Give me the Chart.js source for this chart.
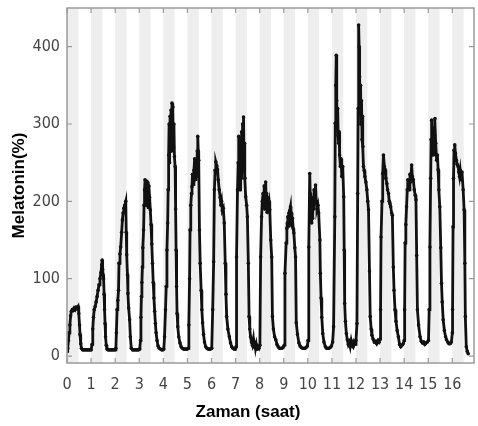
<!DOCTYPE html>
<html><head><meta charset="utf-8">
<script src="https://cdn.jsdelivr.net/npm/chart.js@4"></script>
<style>html,body{margin:0;padding:0;background:#fff}#wrap{width:478px;height:426px;position:relative}</style>
</head><body><div id="wrap"><canvas id="c" width="478" height="426"></canvas></div>
<script>
// time (hours) of each sample
const hours = [
0.00,0.03,0.06,0.09,0.12,0.15,0.18,0.22,0.26,0.30,0.34,0.38,0.42,0.46,0.49,0.52,0.54,0.57,0.60,0.65,0.70,0.75,0.80,0.85,0.90,0.95,1.00,
1.04,1.07,1.10,1.13,1.17,1.21,1.25,1.29,1.33,1.37,1.41,1.44,1.46,1.48,1.50,1.52,1.54,1.56,1.58,1.60,1.63,1.66,1.70,1.75,1.80,1.85,1.90,1.95,2.00,2.03,
2.05,2.08,2.11,2.14,2.16,2.20,2.23,2.27,2.30,2.33,2.36,2.40,2.44,2.46,2.48,2.51,2.53,2.56,2.60,2.63,2.67,2.72,2.77,2.82,2.87,2.92,2.97,3.02,
3.05,3.07,3.09,3.11,3.13,3.15,3.18,3.20,3.22,3.24,3.26,3.28,3.30,3.32,3.34,3.36,3.38,3.40,3.43,3.46,3.49,3.52,3.55,3.58,3.61,3.64,3.67,3.70,3.74,3.78,3.83,3.88,3.93,3.98,4.02,
4.05,4.09,4.12,4.15,4.18,4.20,4.22,4.24,4.26,4.28,4.30,4.32,4.34,4.36,4.38,4.40,4.42,4.44,4.46,4.49,4.51,4.53,4.55,4.57,4.60,4.64,4.69,4.74,4.79,4.84,4.89,4.94,4.99,5.03,
5.06,5.09,5.11,5.14,5.17,5.19,5.21,5.24,5.27,5.30,5.32,5.35,5.38,5.41,5.43,5.45,5.47,5.50,5.53,5.57,5.60,5.63,5.67,5.71,5.76,5.81,5.86,5.91,5.96,6.01,
6.05,6.09,6.12,6.15,6.18,6.22,6.25,6.28,6.32,6.36,6.39,6.42,6.45,6.49,6.53,6.57,6.60,6.63,6.68,6.74,6.79,6.84,6.89,6.94,6.99,7.02,
7.04,7.08,7.11,7.13,7.15,7.17,7.19,7.21,7.23,7.25,7.27,7.29,7.31,7.33,7.35,7.37,7.39,7.42,7.46,7.49,7.53,7.56,7.59,7.62,7.66,7.70,7.74,7.77,7.80,7.83,7.86,7.89,7.93,7.97,8.01,
8.04,8.08,8.11,8.14,8.17,8.19,8.21,8.23,8.25,8.27,8.29,8.31,8.33,8.36,8.39,8.42,8.46,8.50,8.53,8.57,8.62,8.67,8.72,8.77,8.82,8.87,8.92,8.97,9.02,
9.05,9.10,9.13,9.15,9.17,9.19,9.21,9.23,9.25,9.28,9.30,9.32,9.34,9.36,9.39,9.42,9.46,9.49,9.52,9.57,9.63,9.68,9.73,9.78,9.83,9.88,9.93,9.98,10.01,
10.04,10.08,10.10,10.12,10.14,10.16,10.18,10.20,10.22,10.24,10.26,10.29,10.32,10.35,10.38,10.42,10.45,10.50,10.52,10.55,10.58,10.62,10.67,10.73,10.78,10.83,10.88,10.93,10.98,11.03,
11.07,11.12,11.14,11.16,11.18,11.20,11.22,11.24,11.26,11.28,11.30,11.32,11.35,11.38,11.41,11.45,11.49,11.51,11.53,11.56,11.60,11.64,11.68,11.72,11.76,11.80,11.84,11.88,11.92,11.96,12.00,
12.04,12.07,12.09,12.11,12.13,12.15,12.17,12.19,12.21,12.23,12.25,12.27,12.29,12.31,12.34,12.37,12.41,12.45,12.49,12.52,12.56,12.59,12.63,12.66,12.71,12.76,12.81,12.86,12.91,12.96,13.00,
13.02,13.04,13.08,13.11,13.14,13.18,13.21,13.24,13.28,13.31,13.35,13.38,13.41,13.44,13.48,13.51,13.55,13.58,13.62,13.66,13.71,13.76,13.81,13.86,13.91,13.96,14.00,
14.02,14.04,14.07,14.10,14.13,14.15,14.18,14.21,14.24,14.27,14.31,14.34,14.38,14.42,14.46,14.49,14.52,14.55,14.60,14.66,14.71,14.76,14.81,14.86,14.91,14.96,15.01,
15.04,15.07,15.10,15.12,15.14,15.16,15.18,15.20,15.22,15.24,15.26,15.28,15.31,15.35,15.38,15.41,15.44,15.48,15.52,15.55,15.58,15.62,15.67,15.72,15.76,15.81,15.86,15.91,15.96,16.00,
16.01,16.03,16.05,16.07,16.10,16.13,16.17,16.20,16.24,16.27,16.30,16.33,16.37,16.40,16.45,16.49,16.52,16.54,16.58,16.62,16.66
];
// melatonin level (%) at each sample
const melatonin = [
6,10,20,30,40,52,58,60,59,62,60,63,62,64,55,40,28,16,10,8,8,8,8,8,8,8,8,
15,35,50,60,64,70,77,85,92,100,108,118,124,112,105,100,80,60,42,25,14,9,8,8,8,8,8,8,8,10,
30,60,72,85,120,132,141,160,176,185,191,195,200,160,131,105,81,62,47,25,10,8,8,8,8,8,8,9,
20,50,77,95,115,140,163,195,215,228,205,225,195,226,200,224,192,220,205,189,170,145,120,95,75,58,42,30,20,13,10,9,8,8,9,
25,60,90,137,172,215,260,300,250,310,270,318,265,327,290,322,270,300,258,245,190,137,90,55,38,25,17,12,10,9,9,9,9,10,
40,100,163,195,210,219,235,222,240,255,228,245,232,265,284,265,253,163,120,85,60,43,28,18,12,10,9,9,9,10,
60,122,215,240,251,246,241,228,215,205,195,200,188,191,172,120,80,51,35,25,17,12,10,9,9,12,
128,215,250,284,240,280,215,270,230,290,245,300,260,309,250,275,230,206,195,180,120,51,35,25,18,14,22,12,18,10,15,9,12,10,14,
128,180,200,210,195,220,190,215,225,198,210,186,205,195,200,189,150,128,51,35,25,21,15,12,10,10,10,11,14,
107,146,165,172,180,168,185,170,188,193,175,185,168,178,165,159,140,128,43,28,17,13,11,10,10,10,11,13,20,
141,236,210,180,200,172,195,178,205,190,215,198,221,200,190,195,185,150,107,75,50,29,18,12,10,10,10,11,13,18,
38,180,301,350,389,330,300,320,285,275,290,260,245,255,232,245,206,137,68,45,29,21,15,18,12,20,14,12,18,15,20,
42,210,320,428,400,361,327,350,300,330,280,310,271,245,240,232,225,215,200,189,110,51,35,27,22,18,19,16,20,18,22,
60,154,200,236,260,245,241,230,223,215,210,200,197,193,185,182,115,85,60,45,33,25,15,12,14,16,20,
60,146,170,193,215,228,220,215,235,225,247,232,228,215,208,202,130,60,40,25,19,17,18,15,17,18,20,
60,141,230,280,305,270,295,260,290,265,285,307,275,253,260,241,215,193,140,94,70,47,33,25,21,18,16,16,18,30,
60,167,230,266,273,262,253,248,245,238,232,240,228,238,215,189,120,51,12,6,3
];
const xTicks = [0,1,2,3,4,5,6,7,8,9,10,11,12,13,14,15,16];
const yTicks = [0,100,200,300,400];
const darkStarts = [0,1,2,3,4,5,6,7,8,9,10,11,12,13,14,15,16];
const darkLength = 0.47;
const xTitle = 'Zaman (saat)';
const yTitle = 'Melatonin(%)';

const points = hours.map((h, i) => ({x: h, y: melatonin[i]}));
const tickFont = {family: "'Liberation Sans Narrow','DejaVu Sans Condensed',Arial,sans-serif", size: 16};

const bandsPlugin = {
  id: 'bands',
  beforeDatasetsDraw(chart) {
    const {ctx, chartArea: a, scales: {x}} = chart;
    ctx.save();
    ctx.beginPath(); ctx.rect(a.left, a.top, a.right - a.left, a.bottom - a.top); ctx.clip();
    ctx.fillStyle = '#eeeeee';
    darkStarts.forEach(s => {
      const x0 = x.getPixelForValue(s), x1 = x.getPixelForValue(s + darkLength);
      ctx.fillRect(x0, a.top, x1 - x0, a.bottom - a.top);
    });
    ctx.restore();
  }
};
const framePlugin = {
  id: 'frame',
  afterDatasetsDraw(chart) {
    const {ctx, chartArea: a, scales: {x, y}} = chart;
    ctx.save();
    ctx.strokeStyle = '#9a9a9a';
    ctx.lineWidth = 1.5;
    ctx.strokeRect(a.left, a.top, a.right - a.left, a.bottom - a.top);
    ctx.lineWidth = 1.2;
    ctx.beginPath();
    xTicks.forEach(t => {
      const px = x.getPixelForValue(t);
      ctx.moveTo(px, a.bottom); ctx.lineTo(px, a.bottom - 5);
      ctx.moveTo(px, a.top); ctx.lineTo(px, a.top + 5);
    });
    yTicks.forEach(t => {
      const py = y.getPixelForValue(t);
      ctx.moveTo(a.left, py); ctx.lineTo(a.left + 5, py);
      ctx.moveTo(a.right, py); ctx.lineTo(a.right - 5, py);
    });
    ctx.stroke();
    ctx.restore();
  },
  afterDraw(chart) {
    const {ctx, chartArea: a} = chart;
    ctx.save();
    ctx.fillStyle = '#000';
    ctx.font = "bold 17px 'Liberation Sans',Arial,sans-serif";
    ctx.textAlign = 'center';
    ctx.textBaseline = 'middle';
    ctx.fillText(xTitle, a.left + 181, a.bottom + 49);
    ctx.translate(19, (a.top + a.bottom) / 2);
    ctx.rotate(-Math.PI / 2);
    ctx.fillText(yTitle, 0, 0);
    ctx.restore();
  }
};

new Chart(document.getElementById('c'), {
  type: 'scatter',
  data: {datasets: [{
    data: points,
    showLine: true,
    borderColor: '#111',
    borderWidth: 2.8,
    pointRadius: 1.8,
    pointBackgroundColor: '#111',
    pointBorderWidth: 0,
    tension: 0
  }]},
  options: {
    responsive: false,
    animation: false,
    devicePixelRatio: 1,
    layout: {padding: {left: 0, top: 8, right: 2, bottom: 0}},
    plugins: {legend: {display: false}, tooltip: {enabled: false}},
    scales: {
      x: {
        type: 'linear', min: 0, max: 16.9,
        afterBuildTicks: s => { s.ticks = xTicks.map(v => ({value: v})); },
        afterFit: s => { s.height = 63; s.paddingLeft = 0; s.paddingRight = 0; },
        grid: {display: false, drawTicks: false},
        border: {display: false},
        ticks: {font: tickFont, color: '#444', padding: 12, maxRotation: 0, autoSkip: false}
      },
      y: {
        min: -9, max: 450,
        afterBuildTicks: s => { s.ticks = yTicks.map(v => ({value: v})); },
        afterFit: s => { s.width = 67; s.paddingTop = 0; s.paddingBottom = 0; },
        grid: {display: false, drawTicks: false},
        border: {display: false},
        ticks: {font: tickFont, color: '#444', padding: 7}
      }
    }
  },
  plugins: [bandsPlugin, framePlugin]
});
</script></body></html>
